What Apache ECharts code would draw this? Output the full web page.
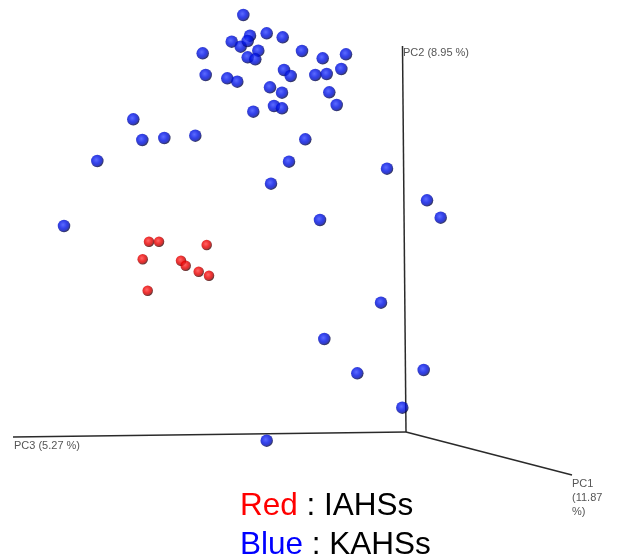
<!DOCTYPE html>
<html>
<head>
<meta charset="utf-8">
<script src="https://cdn.jsdelivr.net/npm/echarts@6/dist/echarts.min.js"></script>
<style>
html,body{margin:0;padding:0;background:#fff;}
#c{width:621px;height:558px;}
</style>
</head>
<body>
<div id="c"></div>
<script>
// Projected PCoA scores (screen-plane projection)
const groupNames = ['IAHSs', 'KAHSs'];
const iahsPoints = [
  [149, 241.7], [159, 241.7], [206.7, 245], [142.7, 259.3], [181, 260.7],
  [185.7, 265.7], [198.7, 271.7], [209, 275.7], [147.7, 290.7]
];
const kahsPoints = [
  [243.3, 15], [250, 35.7], [231.7, 41.7], [240.7, 46.7], [247.7, 41],
  [266.7, 33.3], [282.7, 37.3], [202.7, 53.3], [258.3, 50.7], [247.7, 57.3],
  [255.3, 59.3], [302, 51], [322.7, 58.3], [346, 54.3], [205.7, 75],
  [227.3, 78.3], [237.3, 81.7], [284, 70], [290.7, 76], [315.3, 75],
  [326.7, 74], [341.3, 69], [270, 87.3], [282, 92.7], [329.3, 92.3],
  [336.7, 105], [253.3, 111.7], [274, 106], [282, 108.3],
  [133.3, 119.3], [142.3, 140], [164.3, 138], [195.3, 135.7], [97.3, 161],
  [64, 226], [305.3, 139.3], [289, 161.7], [271, 183.7], [387, 168.7],
  [320, 220], [427, 200.3], [440.7, 217.7], [381, 302.7], [324.3, 339],
  [357.3, 373.3], [423.7, 370], [402.3, 407.7], [266.7, 440.7]
];
// projected axis ends: origin, PC1 end, PC2 end, PC3 end
const axisOrigin = [406, 432];
const pc1End = [572, 475];
const pc2End = [402.5, 46];
const pc3End = [13, 437];
const axisLabels = ['PC1\n(11.87\n%)', 'PC2 (8.95 %)', 'PC3 (5.27 %)'];

function sphere(light, base, rim, dark) {
  return {
    type: 'radial', x: 0.42, y: 0.4, r: 0.6,
    colorStops: [
      {offset: 0, color: light},
      {offset: 0.5, color: base},
      {offset: 0.78, color: rim},
      {offset: 1, color: dark}
    ]
  };
}

const chart = echarts.init(document.getElementById('c'));
const axisLine = (end) => ({
  type: 'line', data: [axisOrigin, end], symbol: 'none', silent: true,
  lineStyle: {color: '#2a2a2a', width: 1.5}, z: 1, animation: false
});
const FONT = '"Liberation Sans", Arial, sans-serif';
chart.setOption({
  backgroundColor: '#fff',
  animation: false,
  grid: {left: 0, right: 0, top: 0, bottom: 0},
  xAxis: {type: 'value', min: 0, max: 621, show: false},
  yAxis: {type: 'value', min: 0, max: 558, inverse: true, show: false},
  series: [
    axisLine(pc1End), axisLine(pc2End), axisLine(pc3End),
    {
      name: groupNames[1], type: 'scatter', data: kahsPoints, symbolSize: 12.5, z: 3,
      itemStyle: {color: sphere('#3346ff', '#0012e6', '#000cb4', '#00022a')}
    },
    {
      name: groupNames[0], type: 'scatter', data: iahsPoints, symbolSize: 10.5, z: 3,
      itemStyle: {color: sphere('#ff4040', '#ee0000', '#b80000', '#2a0000')}
    }
  ],
  graphic: [
    {type: 'text', left: 403, top: 47, style: {text: axisLabels[1], fill: '#555', font: '11px ' + FONT}},
    {type: 'text', left: 14, top: 440, style: {text: axisLabels[2], fill: '#555', font: '11px ' + FONT}},
    {type: 'text', left: 572, top: 477, style: {text: axisLabels[0], fill: '#555', font: '11px ' + FONT, lineHeight: 14}},
    {type: 'text', left: 240, top: 490, style: {
      rich: {r: {fill: '#ff0000', font: '31.5px ' + FONT}, k: {fill: '#000', font: '31.5px ' + FONT}},
      text: '{r|Red}{k| : ' + groupNames[0] + '}'
    }},
    {type: 'text', left: 240, top: 529, style: {
      rich: {r: {fill: '#0000ff', font: '31.5px ' + FONT}, k: {fill: '#000', font: '31.5px ' + FONT}},
      text: '{r|Blue}{k| : ' + groupNames[1] + '}'
    }}
  ]
});
</script>
</body>
</html>
